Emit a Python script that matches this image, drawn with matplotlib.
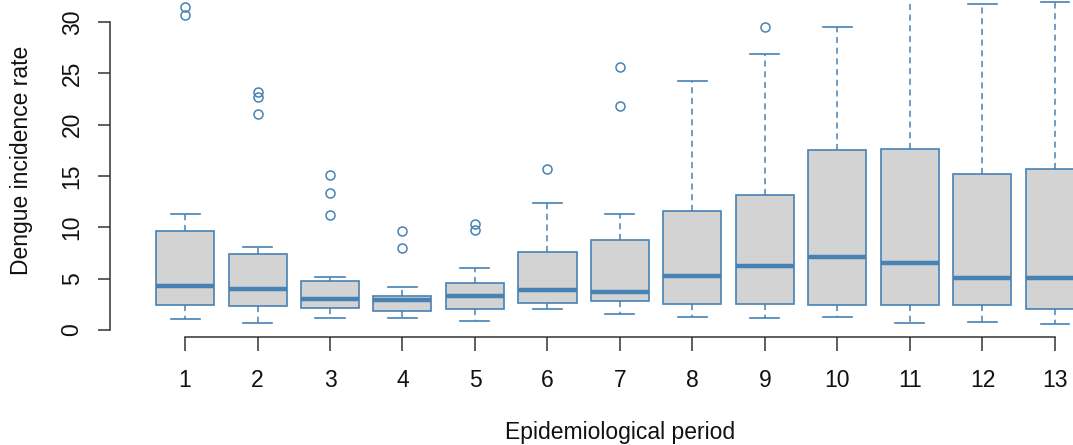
import matplotlib
matplotlib.use("Agg")
import matplotlib.pyplot as plt

# ---------------------------------------------------------------------------
# Data
# ---------------------------------------------------------------------------
periods = list(range(1, 14))
whisker_lo = [1.04, 0.65, 1.14, 1.14, 0.88, 2.01, 1.53, 1.27, 1.14, 1.27, 0.65, 0.78, 0.55]
q1 = [2.40, 2.34, 2.11, 1.88, 2.01, 2.63, 2.86, 2.50, 2.53, 2.44, 2.44, 2.44, 2.01]
median = [4.29, 4.03, 3.02, 2.92, 3.28, 3.90, 3.73, 5.26, 6.27, 7.14, 6.49, 5.03, 5.03]
q3 = [9.67, 7.37, 4.77, 3.28, 4.61, 7.63, 8.77, 11.62, 13.15, 17.50, 17.63, 15.16, 15.65]
whisker_hi = [11.27, 8.12, 5.16, 4.15, 6.04, 12.4, 11.27, 24.3, 26.9, 29.55, 35.0, 31.75, 31.9]
outliers = [
    [31.5, 30.7],
    [23.15, 22.7, 21.07],
    [15.1, 13.3, 11.17],
    [9.61, 7.95],
    [10.3, 9.7],
    [15.68],
    [25.6, 21.8],
    [],
    [29.5],
    [],
    [],
    [],
    [],
]

EDGE = "#4682B4"
FACE = "#D3D3D3"
TXT = "#111111"

plt.rcParams["font.family"] = ["Liberation Sans", "DejaVu Sans"]

W, H = 1073, 445
fig = plt.figure(figsize=(W / 100, H / 100), dpi=100)

# axes placed in pixel terms: y spine at x=110, x=1 at 185, spacing 72.5
px_per_unit_x = 72.5
x_left = 1 - (185 - 110) / px_per_unit_x
x_right = 14.0
right_px = 185 + (x_right - 1) * px_per_unit_x
px_per_unit_y = 308 / 30.0
y_bottom = -(337 - 330) / px_per_unit_y
y_top = 330 / px_per_unit_y
ax = fig.add_axes([110 / W, (H - 337) / H, (right_px - 110) / W, 337 / H])

stats = []
for i in range(len(periods)):
    stats.append({
        "whislo": whisker_lo[i], "q1": q1[i], "med": median[i],
        "q3": q3[i], "whishi": whisker_hi[i], "fliers": outliers[i],
    })

ax.bxp(
    stats, positions=periods, widths=0.8, patch_artist=True,
    boxprops=dict(facecolor=FACE, edgecolor=EDGE, linewidth=1.2),
    medianprops=dict(color=EDGE, linewidth=3.2, solid_capstyle="butt"),
    whiskerprops=dict(color=EDGE, linewidth=1.1, linestyle=(0, (4, 3))),
    capprops=dict(color=EDGE, linewidth=1.2),
    capwidths=0.4,
    flierprops=dict(marker="o", markersize=6.5, markerfacecolor="none",
                    markeredgecolor=EDGE, markeredgewidth=1.1),
)

ax.set_xlim(x_left, x_right)
ax.set_ylim(y_bottom, y_top)

for s in ["top", "right"]:
    ax.spines[s].set_visible(False)
ax.spines["left"].set_bounds(0, 30)
ax.spines["bottom"].set_bounds(1, 13)
for s in ["left", "bottom"]:
    ax.spines[s].set_color("#333333")
    ax.spines[s].set_linewidth(1.1)

ax.set_xticks(periods)
ax.set_xticklabels([str(p) for p in periods])
ax.set_yticks([0, 5, 10, 15, 20, 25, 30])
ax.set_yticklabels(["0", "5", "10", "15", "20", "25", "30"], rotation=90, va="center")
ax.tick_params(axis="x", length=10, width=1.1, color="#333333", labelsize=16.5,
               pad=13, labelcolor=TXT)
ax.tick_params(axis="y", length=9, width=1.1, color="#333333", labelsize=16.5,
               pad=10, labelcolor=TXT)

fig.text(620 / W, 1 - 432 / H, "Epidemiological period", ha="center", va="center",
         fontsize=16.5, color=TXT)
fig.text(22 / W, 1 - 160 / H, "Dengue incidence rate", ha="center", va="center",
         rotation=90, fontsize=16.5, color=TXT)

fig.savefig("out.png", dpi=100)
